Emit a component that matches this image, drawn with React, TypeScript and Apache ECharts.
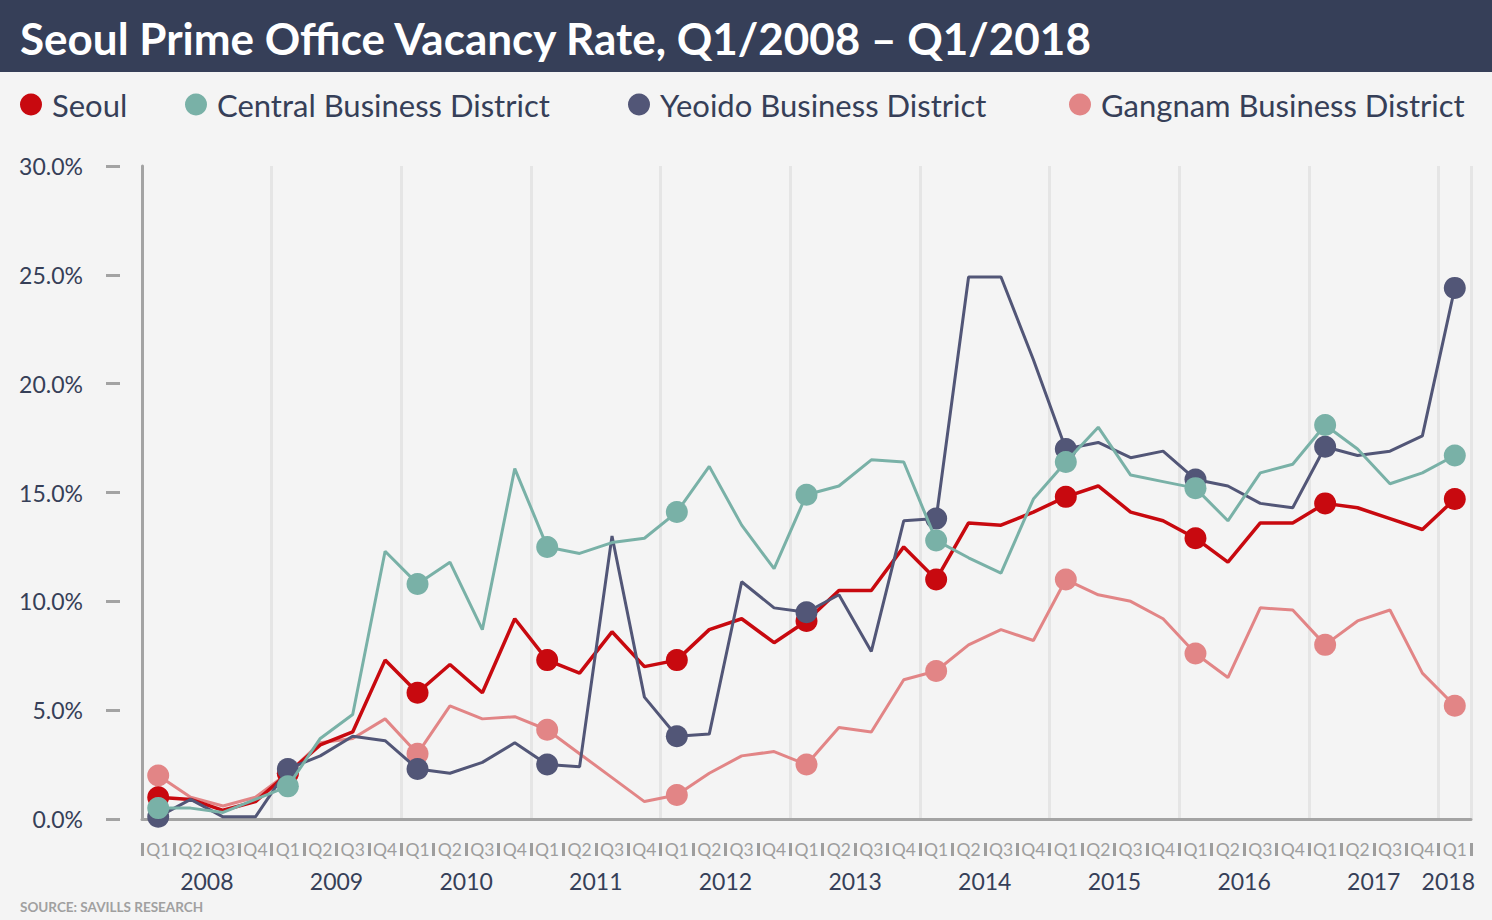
import React, { useEffect, useRef } from "react";
import * as echarts from "echarts";

const titleText = "Seoul Prime Office Vacancy Rate, Q1/2008 – Q1/2018";
const sourceText = "SOURCE: SAVILLS RESEARCH";

const years = ["2008", "2009", "2010", "2011", "2012", "2013", "2014", "2015", "2016", "2017", "2018"];
const quarterNames = ["Q1", "Q2", "Q3", "Q4"];

// categories: Q1/2008 ... Q1/2018
const categories: string[] = [];
years.forEach((y, yi) => {
  quarterNames.forEach((q, qi) => {
    if (yi < years.length - 1 || qi === 0) categories.push(q + " " + y);
  });
});

const seriesNames = ["Seoul", "Central Business District", "Yeoido Business District", "Gangnam Business District"];

const seoul = [1.0, 0.9, 0.4, 0.8, 2.1, 3.4, 4.0, 7.3, 5.8, 7.1, 5.8, 9.2, 7.3, 6.7, 8.6, 7.0, 7.3, 8.7, 9.2, 8.1, 9.1, 10.5, 10.5, 12.5, 11.0, 13.6, 13.5, 14.1, 14.8, 15.3, 14.1, 13.7, 12.9, 11.8, 13.6, 13.6, 14.5, 14.3, 13.8, 13.3, 14.7];
const cbd = [0.5, 0.5, 0.3, 0.9, 1.5, 3.7, 4.8, 12.3, 10.8, 11.8, 8.7, 16.1, 12.5, 12.2, 12.7, 12.9, 14.1, 16.2, 13.5, 11.5, 14.9, 15.3, 16.5, 16.4, 12.8, 12.0, 11.3, 14.7, 16.4, 18.0, 15.8, 15.5, 15.2, 13.7, 15.9, 16.3, 18.1, 17.0, 15.4, 15.9, 16.7];
const yeoido = [0.1, 0.9, 0.1, 0.1, 2.3, 2.9, 3.8, 3.6, 2.3, 2.1, 2.6, 3.5, 2.5, 2.4, 13.0, 5.6, 3.8, 3.9, 10.9, 9.7, 9.5, 10.3, 7.7, 13.7, 13.8, 24.9, 24.9, 21.1, 17.0, 17.3, 16.6, 16.9, 15.6, 15.3, 14.5, 14.3, 17.1, 16.7, 16.9, 17.6, 24.4];
const gangnam = [2.0, 1.0, 0.6, 1.0, 2.1, 3.5, 3.7, 4.6, 3.0, 5.2, 4.6, 4.7, 4.1, 3.0, 1.9, 0.8, 1.1, 2.1, 2.9, 3.1, 2.5, 4.2, 4.0, 6.4, 6.8, 8.0, 8.7, 8.2, 11.0, 10.3, 10.0, 9.2, 7.6, 6.5, 9.7, 9.6, 8.0, 9.1, 9.6, 6.7, 5.2];

const seriesData = [seoul, cbd, yeoido, gangnam];
const seriesColors = ["#c8090f", "#79b1a7", "#525677", "#e28586"];
const seriesWidths = [3.5, 3, 3, 3];
const seriesZ = [3, 5, 4, 2];
const legendLeft = [20, 185, 628, 1069];

const FONT = "Lato, 'Open Sans', sans-serif";
const NAVY_TEXT = "#363f58";
const AXIS_GRAY = "#a3a3a3";
const TICK_GRAY = "#9e9e9e";

// year label positions (category index units), centred on each year's quarters
const yearLabelPos = years.map((y) => {
  const idx: number[] = [];
  categories.forEach((c, i) => {
    if (c.endsWith(y)) idx.push(i);
  });
  const mean = idx.reduce((a, b) => a + b, 0) / idx.length;
  return Math.min(mean, categories.length - 1.2);
});

export default function App() {
  const ref = useRef<HTMLDivElement>(null);
  useEffect(() => {
    document.body.style.margin = "0";
    const chart = echarts.init(ref.current!, undefined, { renderer: "svg" });
    const option: any = {
      animation: false,
      backgroundColor: "#f4f4f4",
      grid: { left: 142, right: 21, top: 166, bottom: 101, containLabel: false },
      graphic: [
        { type: "rect", left: 0, top: 0, shape: { x: 0, y: 0, width: 1492, height: 72 }, style: { fill: "#363f58" }, z: 0 },
        {
          type: "text",
          x: 20,
          y: 38,
          style: { text: titleText, fill: "#ffffff", font: "bold 44px " + FONT, verticalAlign: "middle" },
          z: 1,
        },
        {
          type: "text",
          x: 20,
          y: 907,
          style: { text: sourceText, fill: "#a0a0a0", font: "bold 13.5px " + FONT, verticalAlign: "middle" },
        },
      ],
      legend: seriesNames.map((name, i) => ({
        data: [name],
        left: legendLeft[i],
        top: 89,
        padding: 0,
        icon: "circle",
        itemWidth: 22,
        itemHeight: 22,
        selectedMode: false,
        textStyle: { fontSize: 31, color: NAVY_TEXT, fontFamily: FONT, padding: [0, 0, 0, 5] },
      })),
      xAxis: [
        {
          type: "category",
          data: categories,
          boundaryGap: true,
          axisLine: { show: true, onZero: false, lineStyle: { color: AXIS_GRAY, width: 3 } },
          axisTick: { show: false },
          axisLabel: { show: false },
          splitLine: { show: true, interval: (i: number) => i % 4 === 0, lineStyle: { color: "#e5e5e5", width: 3 } },
        },
        {
          type: "category",
          data: categories,
          boundaryGap: true,
          position: "bottom",
          offset: 24,
          axisLine: { show: true, onZero: false, lineStyle: { color: TICK_GRAY, width: 0, opacity: 0 } },
          axisTick: { show: true, inside: false, interval: 0, length: 13, lineStyle: { color: TICK_GRAY, width: 3 } },
          axisLabel: {
            interval: 0,
            formatter: (v: string) => v.split(" ")[0],
            color: TICK_GRAY,
            fontSize: 17.5,
            fontFamily: FONT,
            margin: 6,
            verticalAlign: "middle",
          },
          splitLine: { show: false },
        },
        {
          type: "value",
          min: -0.5,
          max: categories.length - 0.5,
          position: "bottom",
          offset: 0,
          axisLine: { show: false, onZero: false },
          axisTick: { show: false },
          splitLine: { show: false },
          axisLabel: {
            customValues: yearLabelPos,
            formatter: (v: number) => {
              const k = yearLabelPos.findIndex((p) => Math.abs(p - v) < 1e-6);
              return k >= 0 ? years[k] : "";
            },
            color: NAVY_TEXT,
            fontSize: 23,
            fontFamily: FONT,
            margin: 62,
            verticalAlign: "middle",
          },
        },
      ],
      yAxis: [
        {
          type: "value",
          min: 0,
          max: 30,
          interval: 5,
          axisLine: { show: true, onZero: false, lineStyle: { color: AXIS_GRAY, width: 3 } },
          axisTick: { show: false },
          axisLabel: { show: false },
          splitLine: { show: false },
        },
        {
          type: "value",
          min: 0,
          max: 30,
          interval: 5,
          position: "left",
          offset: 22,
          axisLine: { show: false, onZero: false },
          axisTick: { show: true, length: 14, lineStyle: { color: AXIS_GRAY, width: 3 } },
          axisLabel: {
            formatter: (v: number) => v.toFixed(1) + "%",
            color: NAVY_TEXT,
            fontSize: 23,
            fontFamily: FONT,
            margin: 37,
          },
          splitLine: { show: false },
        },
      ],
      series: seriesNames.map((name, i) => ({
        name,
        type: "line",
        data: seriesData[i],
        xAxisIndex: 0,
        yAxisIndex: 0,
        symbol: "circle",
        showAllSymbol: true,
        symbolSize: (_v: any, p: any) => (p.dataIndex % 4 === 0 ? 22 : 0),
        lineStyle: { color: seriesColors[i], width: seriesWidths[i] },
        itemStyle: { color: seriesColors[i] },
        emphasis: { disabled: true },
        z: seriesZ[i],
      })),
    };
    chart.setOption(option);
    return () => chart.dispose();
  }, []);
  return <div ref={ref} style={{ position: "fixed", left: 0, top: 0, width: 1492, height: 920 }} />;
}
